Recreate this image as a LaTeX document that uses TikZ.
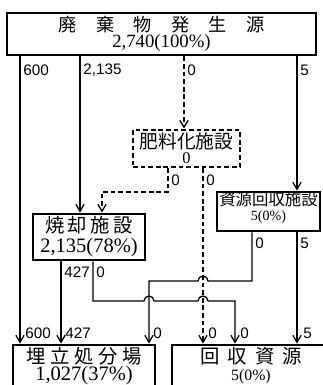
\documentclass[tikz,border=0pt]{standalone}
\usepackage{fontspec}
\setmainfont{Liberation Serif}
\newfontfamily\jp{Noto Sans CJK JP}
\newfontfamily\lab{Liberation Sans}
\usetikzlibrary{arrows.meta,calc}

\tikzset{
  box/.style={draw, line width=2.4pt, inner sep=0pt, align=center,
              execute at begin node={\lineskiplimit=-30pt\relax}},
  dbox/.style={box, dash pattern=on 4pt off 2.5pt},
  flow/.style={line width=1.1pt, -{Straight Barb[length=6pt,width=7pt]}},
  dflow/.style={flow, dash pattern=on 4pt off 2.5pt},
  num/.style={font=\lab\fontsize{13}{13}\selectfont, anchor=west, inner sep=1pt},
}

\begin{document}
\begin{tikzpicture}[x=0.03cm,y=-0.03cm]
    \useasboundingbox (0,0) rectangle (322,385);
    % Boxes
    \node[box, minimum width=9.27cm, minimum height=1.26cm, font=\fontsize{16}{13.5}\selectfont] (gen) at (161.5,34)
        {{\jp\fontsize{15.5}{16}\selectfont 廃\hspace{16.5pt}棄\hspace{16.5pt}物\hspace{16.5pt}発\hspace{16.5pt}生\hspace{16.5pt}源}\\2,740(100\%)};
    \node[dbox, minimum width=3.21cm, minimum height=1.11cm, font=\fontsize{14}{13}\selectfont] (compost) at (186.5,148.5)
        {{\jp\fontsize{16}{16}\selectfont 肥料化施設}\\0};
    \node[box, minimum width=3.36cm, minimum height=1.38cm, font=\fontsize{17.5}{17}\selectfont] (incin) at (89,237)
        {{\jp\fontsize{16.5}{17}\selectfont 焼\hspace{3pt}却\hspace{3pt}施\hspace{3pt}設}\\2,135(78\%)};
    \node[box, minimum width=3.09cm, minimum height=1.17cm, font=\fontsize{12}{12.5}\selectfont] (recov) at (268.5,211.5)
        {{\jp\fontsize{14}{14}\selectfont 資源回収施設}\\5(0\%)\rule[-9pt]{0pt}{1pt}};
    \node[box, minimum width=4.26cm, minimum height=1.26cm, font=\fontsize{17.5}{14.5}\selectfont] (landfill) at (84,366)
        {{\jp\fontsize{16.5}{16}\selectfont 埋\hspace{4pt}立\hspace{4pt}処\hspace{4pt}分\hspace{4pt}場}\\1,027(37\%)};
    \node[box, minimum width=4.74cm, minimum height=1.26cm, font=\fontsize{13.5}{14.5}\selectfont] (recyc) at (251,366)
        {{\jp\fontsize{16.5}{16}\selectfont 回\hspace{7pt}収\hspace{7pt}資\hspace{7pt}源}\\5(0\%)};

    % Line positions
    \foreach \n/\x in {gLand/20, gInc/80, gComp/184, gRec/297, cInc/168, cRec/203, iLand/61, iRec/93, rLand/252}
        \coordinate (\n) at (\x,0);
    \coordinate (tComp) at (102,192);
    \coordinate (tRec) at (149,281);
    \coordinate (tInc) at (235,301);

    % Flows from the source
    \draw[flow] (gen.south -| gLand) -- (landfill.north -| gLand);
    \draw[flow] (gen.south -| gInc) -- (incin.north -| gInc);
    \draw[dflow] (gen.south -| gComp) -- (compost.north -| gComp);
    \draw[flow] (gen.south -| gRec) -- (recov.north -| gRec);
    % Composting
    \draw[dflow] (compost.south -| cInc) |- (tComp) -- (incin.north -| tComp);
    \draw[dflow] (compost.south -| cRec) -- (recyc.north -| cRec);
    % Incineration
    \draw[flow] (incin.south -| iLand) -- (landfill.north -| iLand);
    \draw[flow] (incin.south -| iRec) |- ($(tRec |- tInc)+(-5,0)$)
        arc[start angle=180, end angle=0, radius=0.15cm] -- ($(cRec |- tInc)+(-5,0)$)
        arc[start angle=180, end angle=0, radius=0.15cm] -- (tInc) -- (recyc.north -| tInc);
    % Recovery
    \draw[flow] (recov.south -| rLand) |- ($(cRec |- tRec)+(5,0)$)
        arc[start angle=0, end angle=180, radius=0.15cm] -- (tRec) -- (landfill.north -| tRec);
    \draw[flow] (recov.south -| gRec) -- (recyc.north -| gRec);

    % Amounts
    \foreach \n/\x/\y/\t in {la/22/70/600, lb/82/70/{2,135}, lc/186/70/0, ld/299/70/5,
                             le/170/180/0, lf/205/180/0, lg/63/272/427, lh/95/272/0,
                             li/254/243/0, lj/299/243/5, lk/24/333/600, ll/64/333/427,
                             lm/152/333/0, ln/207/333/0, lo/239/333/0, lp/302/333/5}
        \node[num] (\n) at (\x,\y) {\t};
\end{tikzpicture}
\end{document}
